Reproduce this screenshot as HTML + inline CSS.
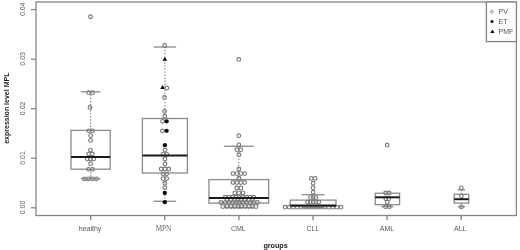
<!DOCTYPE html>
<html><head><meta charset="utf-8"><title>boxplot</title><style>
html,body{margin:0;padding:0;background:#fff;}
body{width:520px;height:250px;overflow:hidden;}
svg{display:block;}
.tk{font-family:"Liberation Sans",Arial,sans-serif;font-size:7px;fill:#5a5a5a;}
.tks{font-family:"Liberation Serif","Times New Roman",serif;font-size:7.2px;fill:#5e5e5e;}
.ttl{font-family:"Liberation Sans",Arial,sans-serif;font-size:7.2px;font-weight:bold;fill:#222;}
.lg{font-family:"Liberation Sans",Arial,sans-serif;font-size:7px;fill:#555;}
</style></head>
<body>
<svg width="520" height="250" viewBox="0 0 520 250">
<g>
<rect width="520" height="250" fill="#fff"/>
<line x1="90.6" y1="91.8" x2="90.6" y2="130.4" stroke="#8a8a8a" stroke-width="1.2" stroke-dasharray="1.45 1.6"/>
<line x1="80.8" y1="91.8" x2="100.4" y2="91.8" stroke="#8a8a8a" stroke-width="1.3"/>
<line x1="90.6" y1="169.2" x2="90.6" y2="178.8" stroke="#8a8a8a" stroke-width="1.2" stroke-dasharray="1.45 1.6"/>
<line x1="80.8" y1="178.8" x2="100.4" y2="178.8" stroke="#8a8a8a" stroke-width="1.3"/>
<rect x="71" y="130.4" width="39.2" height="38.8" fill="none" stroke="#8a8a8a" stroke-width="1.3"/>
<line x1="164.9" y1="47" x2="164.9" y2="118.5" stroke="#8a8a8a" stroke-width="1.2" stroke-dasharray="1.45 1.6"/>
<line x1="153.65" y1="47" x2="176.15" y2="47" stroke="#8a8a8a" stroke-width="1.3"/>
<line x1="164.9" y1="173" x2="164.9" y2="201.3" stroke="#8a8a8a" stroke-width="1.2" stroke-dasharray="1.45 1.6"/>
<line x1="153.65" y1="201.3" x2="176.15" y2="201.3" stroke="#8a8a8a" stroke-width="1.3"/>
<rect x="142.4" y="118.5" width="45" height="54.5" fill="none" stroke="#8a8a8a" stroke-width="1.3"/>
<line x1="238.8" y1="146.3" x2="238.8" y2="179.6" stroke="#8a8a8a" stroke-width="1.2" stroke-dasharray="1.45 1.6"/>
<line x1="223.88" y1="146.3" x2="253.73" y2="146.3" stroke="#8a8a8a" stroke-width="1.3"/>
<line x1="238.8" y1="203.1" x2="238.8" y2="207.4" stroke="#8a8a8a" stroke-width="1.2" stroke-dasharray="1.45 1.6"/>
<line x1="223.88" y1="207.4" x2="253.73" y2="207.4" stroke="#8a8a8a" stroke-width="1.3"/>
<rect x="208.95" y="179.6" width="59.7" height="23.5" fill="none" stroke="#8a8a8a" stroke-width="1.3"/>
<line x1="313.1" y1="194.7" x2="313.1" y2="200.1" stroke="#8a8a8a" stroke-width="1.2" stroke-dasharray="1.45 1.6"/>
<line x1="301.65" y1="194.7" x2="324.55" y2="194.7" stroke="#8a8a8a" stroke-width="1.3"/>
<line x1="313.1" y1="206.3" x2="313.1" y2="207.6" stroke="#8a8a8a" stroke-width="1.2" stroke-dasharray="1.45 1.6"/>
<line x1="301.65" y1="207.6" x2="324.55" y2="207.6" stroke="#8a8a8a" stroke-width="1.3"/>
<rect x="290.2" y="200.1" width="45.8" height="6.2" fill="none" stroke="#8a8a8a" stroke-width="1.3"/>
<line x1="387.4" y1="204.7" x2="387.4" y2="206.6" stroke="#8a8a8a" stroke-width="1.2" stroke-dasharray="1.45 1.6"/>
<line x1="381.3" y1="206.6" x2="393.5" y2="206.6" stroke="#8a8a8a" stroke-width="1.3"/>
<rect x="375.2" y="193.2" width="24.4" height="11.5" fill="none" stroke="#8a8a8a" stroke-width="1.3"/>
<line x1="461.45" y1="189.8" x2="461.45" y2="194.3" stroke="#8a8a8a" stroke-width="1.2" stroke-dasharray="1.45 1.6"/>
<line x1="457.8" y1="189.8" x2="465.1" y2="189.8" stroke="#8a8a8a" stroke-width="1.3"/>
<line x1="461.45" y1="203.1" x2="461.45" y2="206.8" stroke="#8a8a8a" stroke-width="1.2" stroke-dasharray="1.45 1.6"/>
<line x1="457.8" y1="206.8" x2="465.1" y2="206.8" stroke="#8a8a8a" stroke-width="1.3"/>
<rect x="454.15" y="194.3" width="14.6" height="8.8" fill="none" stroke="#8a8a8a" stroke-width="1.3"/>
<circle cx="90.5" cy="16.8" r="1.85" fill="none" stroke="#7a7a7a" stroke-width="1.15"/>
<circle cx="88.7" cy="92.7" r="1.85" fill="none" stroke="#7a7a7a" stroke-width="1.15"/>
<circle cx="92.6" cy="92.7" r="1.85" fill="none" stroke="#7a7a7a" stroke-width="1.15"/>
<circle cx="90" cy="107.4" r="1.85" fill="none" stroke="#7a7a7a" stroke-width="1.15"/>
<circle cx="88.8" cy="130.8" r="1.85" fill="none" stroke="#7a7a7a" stroke-width="1.15"/>
<circle cx="92.4" cy="130.8" r="1.85" fill="none" stroke="#7a7a7a" stroke-width="1.15"/>
<circle cx="90.6" cy="135.6" r="1.85" fill="none" stroke="#7a7a7a" stroke-width="1.15"/>
<circle cx="90.6" cy="140.4" r="1.85" fill="none" stroke="#7a7a7a" stroke-width="1.15"/>
<circle cx="90.5" cy="150.1" r="1.85" fill="none" stroke="#7a7a7a" stroke-width="1.15"/>
<circle cx="88.7" cy="154" r="1.85" fill="none" stroke="#7a7a7a" stroke-width="1.15"/>
<circle cx="92.3" cy="154" r="1.85" fill="none" stroke="#7a7a7a" stroke-width="1.15"/>
<circle cx="87.3" cy="158.9" r="1.85" fill="none" stroke="#7a7a7a" stroke-width="1.15"/>
<circle cx="90.5" cy="158.9" r="1.85" fill="none" stroke="#7a7a7a" stroke-width="1.15"/>
<circle cx="93.7" cy="158.9" r="1.85" fill="none" stroke="#7a7a7a" stroke-width="1.15"/>
<circle cx="90.6" cy="163.7" r="1.85" fill="none" stroke="#7a7a7a" stroke-width="1.15"/>
<circle cx="88.6" cy="169.3" r="1.85" fill="none" stroke="#7a7a7a" stroke-width="1.15"/>
<circle cx="92.5" cy="169.3" r="1.85" fill="none" stroke="#7a7a7a" stroke-width="1.15"/>
<circle cx="84.5" cy="178.8" r="1.85" fill="none" stroke="#7a7a7a" stroke-width="1.15"/>
<circle cx="88.4" cy="178.8" r="1.85" fill="none" stroke="#7a7a7a" stroke-width="1.15"/>
<circle cx="92.4" cy="178.8" r="1.85" fill="none" stroke="#7a7a7a" stroke-width="1.15"/>
<circle cx="96.3" cy="178.8" r="1.85" fill="none" stroke="#7a7a7a" stroke-width="1.15"/>
<circle cx="164.6" cy="45.4" r="1.85" fill="none" stroke="#7a7a7a" stroke-width="1.15"/>
<path d="M164.9 56.92L167.25 60.72L162.55 60.72Z" fill="#000"/>
<path d="M162.6 85.12L164.95 88.92L160.25 88.92Z" fill="#000"/>
<circle cx="166.8" cy="88" r="1.85" fill="none" stroke="#7a7a7a" stroke-width="1.15"/>
<circle cx="164.5" cy="97.4" r="1.85" fill="none" stroke="#7a7a7a" stroke-width="1.15"/>
<circle cx="164.5" cy="111.4" r="1.85" fill="none" stroke="#7a7a7a" stroke-width="1.15"/>
<circle cx="164.8" cy="116.2" r="1.85" fill="none" stroke="#7a7a7a" stroke-width="1.15"/>
<circle cx="162.6" cy="121.3" r="1.85" fill="none" stroke="#7a7a7a" stroke-width="1.15"/>
<circle cx="166.6" cy="121.3" r="2.15" fill="#0a0a0a"/>
<circle cx="162.4" cy="130.8" r="1.85" fill="none" stroke="#7a7a7a" stroke-width="1.15"/>
<circle cx="166.6" cy="130.8" r="2.15" fill="#0a0a0a"/>
<circle cx="164.9" cy="145.2" r="2.15" fill="#0a0a0a"/>
<circle cx="165" cy="150" r="1.85" fill="none" stroke="#7a7a7a" stroke-width="1.15"/>
<circle cx="163" cy="154.3" r="1.85" fill="none" stroke="#7a7a7a" stroke-width="1.15"/>
<circle cx="166.8" cy="154.3" r="1.85" fill="none" stroke="#7a7a7a" stroke-width="1.15"/>
<circle cx="165" cy="159" r="1.85" fill="none" stroke="#7a7a7a" stroke-width="1.15"/>
<circle cx="165" cy="164" r="1.85" fill="none" stroke="#7a7a7a" stroke-width="1.15"/>
<circle cx="161.2" cy="169" r="1.85" fill="none" stroke="#7a7a7a" stroke-width="1.15"/>
<circle cx="165" cy="169" r="1.85" fill="none" stroke="#7a7a7a" stroke-width="1.15"/>
<circle cx="168.8" cy="169" r="1.85" fill="none" stroke="#7a7a7a" stroke-width="1.15"/>
<circle cx="163" cy="173.8" r="1.85" fill="none" stroke="#7a7a7a" stroke-width="1.15"/>
<circle cx="166.6" cy="173.8" r="1.85" fill="none" stroke="#7a7a7a" stroke-width="1.15"/>
<circle cx="163" cy="178.6" r="1.85" fill="none" stroke="#7a7a7a" stroke-width="1.15"/>
<circle cx="166.6" cy="178.6" r="1.85" fill="none" stroke="#7a7a7a" stroke-width="1.15"/>
<circle cx="164.8" cy="183.2" r="1.85" fill="none" stroke="#7a7a7a" stroke-width="1.15"/>
<circle cx="164.8" cy="187.6" r="1.85" fill="none" stroke="#7a7a7a" stroke-width="1.15"/>
<circle cx="164.8" cy="193" r="2.15" fill="#0a0a0a"/>
<circle cx="164.8" cy="202.2" r="2.15" fill="#0a0a0a"/>
<circle cx="238.8" cy="59.4" r="1.85" fill="none" stroke="#7a7a7a" stroke-width="1.15"/>
<circle cx="238.8" cy="135.7" r="1.85" fill="none" stroke="#7a7a7a" stroke-width="1.15"/>
<circle cx="238.9" cy="144.8" r="1.85" fill="none" stroke="#7a7a7a" stroke-width="1.15"/>
<circle cx="236.9" cy="149.7" r="1.85" fill="none" stroke="#7a7a7a" stroke-width="1.15"/>
<circle cx="240.7" cy="149.7" r="1.85" fill="none" stroke="#7a7a7a" stroke-width="1.15"/>
<circle cx="238.9" cy="154.7" r="1.85" fill="none" stroke="#7a7a7a" stroke-width="1.15"/>
<circle cx="238.9" cy="169" r="1.85" fill="none" stroke="#7a7a7a" stroke-width="1.15"/>
<circle cx="233" cy="173.6" r="1.85" fill="none" stroke="#7a7a7a" stroke-width="1.15"/>
<circle cx="236.9" cy="173.6" r="1.85" fill="none" stroke="#7a7a7a" stroke-width="1.15"/>
<circle cx="240.8" cy="173.6" r="1.85" fill="none" stroke="#7a7a7a" stroke-width="1.15"/>
<circle cx="244.7" cy="173.6" r="1.85" fill="none" stroke="#7a7a7a" stroke-width="1.15"/>
<circle cx="238.9" cy="178.2" r="1.85" fill="none" stroke="#7a7a7a" stroke-width="1.15"/>
<circle cx="233" cy="182.5" r="1.85" fill="none" stroke="#7a7a7a" stroke-width="1.15"/>
<circle cx="236.9" cy="182.5" r="1.85" fill="none" stroke="#7a7a7a" stroke-width="1.15"/>
<circle cx="240.8" cy="182.5" r="1.85" fill="none" stroke="#7a7a7a" stroke-width="1.15"/>
<circle cx="244.7" cy="182.5" r="1.85" fill="none" stroke="#7a7a7a" stroke-width="1.15"/>
<circle cx="236.8" cy="188" r="1.85" fill="none" stroke="#7a7a7a" stroke-width="1.15"/>
<circle cx="240.9" cy="188" r="1.85" fill="none" stroke="#7a7a7a" stroke-width="1.15"/>
<circle cx="234.8" cy="192.9" r="1.85" fill="none" stroke="#7a7a7a" stroke-width="1.15"/>
<circle cx="238.9" cy="192.9" r="1.85" fill="none" stroke="#7a7a7a" stroke-width="1.15"/>
<circle cx="243" cy="192.9" r="1.85" fill="none" stroke="#7a7a7a" stroke-width="1.15"/>
<circle cx="225.2" cy="197.2" r="1.85" fill="none" stroke="#7a7a7a" stroke-width="1.15"/>
<circle cx="229" cy="197.2" r="1.85" fill="none" stroke="#7a7a7a" stroke-width="1.15"/>
<circle cx="232.7" cy="197.2" r="1.85" fill="none" stroke="#7a7a7a" stroke-width="1.15"/>
<circle cx="236.1" cy="197.2" r="1.85" fill="none" stroke="#7a7a7a" stroke-width="1.15"/>
<circle cx="239" cy="197.2" r="1.85" fill="none" stroke="#7a7a7a" stroke-width="1.15"/>
<circle cx="242.8" cy="197.2" r="1.85" fill="none" stroke="#7a7a7a" stroke-width="1.15"/>
<circle cx="246.5" cy="197.2" r="1.85" fill="none" stroke="#7a7a7a" stroke-width="1.15"/>
<circle cx="250.3" cy="197.2" r="1.85" fill="none" stroke="#7a7a7a" stroke-width="1.15"/>
<circle cx="253.7" cy="197.2" r="1.85" fill="none" stroke="#7a7a7a" stroke-width="1.15"/>
<circle cx="227.2" cy="199.8" r="1.85" fill="none" stroke="#7a7a7a" stroke-width="1.15"/>
<circle cx="231" cy="199.8" r="1.85" fill="none" stroke="#7a7a7a" stroke-width="1.15"/>
<circle cx="234.7" cy="199.8" r="1.85" fill="none" stroke="#7a7a7a" stroke-width="1.15"/>
<circle cx="238.1" cy="199.8" r="1.85" fill="none" stroke="#7a7a7a" stroke-width="1.15"/>
<circle cx="241.4" cy="199.8" r="1.85" fill="none" stroke="#7a7a7a" stroke-width="1.15"/>
<circle cx="245.2" cy="199.8" r="1.85" fill="none" stroke="#7a7a7a" stroke-width="1.15"/>
<circle cx="248.9" cy="199.8" r="1.85" fill="none" stroke="#7a7a7a" stroke-width="1.15"/>
<circle cx="252.6" cy="199.8" r="1.85" fill="none" stroke="#7a7a7a" stroke-width="1.15"/>
<circle cx="220.8" cy="202.5" r="1.85" fill="none" stroke="#7a7a7a" stroke-width="1.15"/>
<circle cx="225.2" cy="202.5" r="1.85" fill="none" stroke="#7a7a7a" stroke-width="1.15"/>
<circle cx="229" cy="202.5" r="1.85" fill="none" stroke="#7a7a7a" stroke-width="1.15"/>
<circle cx="232.7" cy="202.5" r="1.85" fill="none" stroke="#7a7a7a" stroke-width="1.15"/>
<circle cx="236.1" cy="202.5" r="1.85" fill="none" stroke="#7a7a7a" stroke-width="1.15"/>
<circle cx="239" cy="202.5" r="1.85" fill="none" stroke="#7a7a7a" stroke-width="1.15"/>
<circle cx="242.8" cy="202.5" r="1.85" fill="none" stroke="#7a7a7a" stroke-width="1.15"/>
<circle cx="246.5" cy="202.5" r="1.85" fill="none" stroke="#7a7a7a" stroke-width="1.15"/>
<circle cx="250.3" cy="202.5" r="1.85" fill="none" stroke="#7a7a7a" stroke-width="1.15"/>
<circle cx="253.7" cy="202.5" r="1.85" fill="none" stroke="#7a7a7a" stroke-width="1.15"/>
<circle cx="257.4" cy="202.5" r="1.85" fill="none" stroke="#7a7a7a" stroke-width="1.15"/>
<circle cx="222.8" cy="206.6" r="1.85" fill="none" stroke="#7a7a7a" stroke-width="1.15"/>
<circle cx="226.9" cy="206.6" r="1.85" fill="none" stroke="#7a7a7a" stroke-width="1.15"/>
<circle cx="231" cy="206.6" r="1.85" fill="none" stroke="#7a7a7a" stroke-width="1.15"/>
<circle cx="234.7" cy="206.6" r="1.85" fill="none" stroke="#7a7a7a" stroke-width="1.15"/>
<circle cx="238.3" cy="206.6" r="1.85" fill="none" stroke="#7a7a7a" stroke-width="1.15"/>
<circle cx="241.4" cy="206.6" r="1.85" fill="none" stroke="#7a7a7a" stroke-width="1.15"/>
<circle cx="245.2" cy="206.6" r="1.85" fill="none" stroke="#7a7a7a" stroke-width="1.15"/>
<circle cx="248.9" cy="206.6" r="1.85" fill="none" stroke="#7a7a7a" stroke-width="1.15"/>
<circle cx="252.6" cy="206.6" r="1.85" fill="none" stroke="#7a7a7a" stroke-width="1.15"/>
<circle cx="256" cy="206.6" r="1.85" fill="none" stroke="#7a7a7a" stroke-width="1.15"/>
<circle cx="311.3" cy="178.4" r="1.85" fill="none" stroke="#7a7a7a" stroke-width="1.15"/>
<circle cx="315.2" cy="178.4" r="1.85" fill="none" stroke="#7a7a7a" stroke-width="1.15"/>
<circle cx="313.1" cy="183.2" r="1.85" fill="none" stroke="#7a7a7a" stroke-width="1.15"/>
<circle cx="313.1" cy="187.7" r="1.85" fill="none" stroke="#7a7a7a" stroke-width="1.15"/>
<circle cx="313.2" cy="192.2" r="1.85" fill="none" stroke="#7a7a7a" stroke-width="1.15"/>
<circle cx="310.5" cy="197.6" r="1.85" fill="none" stroke="#7a7a7a" stroke-width="1.15"/>
<circle cx="313.2" cy="197.6" r="1.85" fill="none" stroke="#7a7a7a" stroke-width="1.15"/>
<circle cx="315.9" cy="197.6" r="1.85" fill="none" stroke="#7a7a7a" stroke-width="1.15"/>
<circle cx="307.6" cy="202.1" r="1.85" fill="none" stroke="#7a7a7a" stroke-width="1.15"/>
<circle cx="310.4" cy="202.1" r="1.85" fill="none" stroke="#7a7a7a" stroke-width="1.15"/>
<circle cx="313.2" cy="202.1" r="1.85" fill="none" stroke="#7a7a7a" stroke-width="1.15"/>
<circle cx="316" cy="202.1" r="1.85" fill="none" stroke="#7a7a7a" stroke-width="1.15"/>
<circle cx="318.8" cy="202.1" r="1.85" fill="none" stroke="#7a7a7a" stroke-width="1.15"/>
<circle cx="285.1" cy="207.2" r="1.85" fill="none" stroke="#7a7a7a" stroke-width="1.15"/>
<circle cx="289.1" cy="207.2" r="1.85" fill="none" stroke="#7a7a7a" stroke-width="1.15"/>
<circle cx="293.2" cy="207.2" r="1.85" fill="none" stroke="#7a7a7a" stroke-width="1.15"/>
<circle cx="297.3" cy="207.2" r="1.85" fill="none" stroke="#7a7a7a" stroke-width="1.15"/>
<circle cx="301.4" cy="207.2" r="1.85" fill="none" stroke="#7a7a7a" stroke-width="1.15"/>
<circle cx="305.5" cy="207.2" r="1.85" fill="none" stroke="#7a7a7a" stroke-width="1.15"/>
<circle cx="309.2" cy="207.2" r="1.85" fill="none" stroke="#7a7a7a" stroke-width="1.15"/>
<circle cx="313" cy="207.2" r="1.85" fill="none" stroke="#7a7a7a" stroke-width="1.15"/>
<circle cx="316.5" cy="207.2" r="1.85" fill="none" stroke="#7a7a7a" stroke-width="1.15"/>
<circle cx="320.5" cy="207.2" r="1.85" fill="none" stroke="#7a7a7a" stroke-width="1.15"/>
<circle cx="324.6" cy="207.2" r="1.85" fill="none" stroke="#7a7a7a" stroke-width="1.15"/>
<circle cx="328.7" cy="207.2" r="1.85" fill="none" stroke="#7a7a7a" stroke-width="1.15"/>
<circle cx="332.8" cy="207.2" r="1.85" fill="none" stroke="#7a7a7a" stroke-width="1.15"/>
<circle cx="336.9" cy="207.2" r="1.85" fill="none" stroke="#7a7a7a" stroke-width="1.15"/>
<circle cx="341" cy="207.2" r="1.85" fill="none" stroke="#7a7a7a" stroke-width="1.15"/>
<circle cx="387.2" cy="145.2" r="1.85" fill="none" stroke="#7a7a7a" stroke-width="1.15"/>
<circle cx="385.6" cy="193" r="1.85" fill="none" stroke="#7a7a7a" stroke-width="1.15"/>
<circle cx="389" cy="193" r="1.85" fill="none" stroke="#7a7a7a" stroke-width="1.15"/>
<circle cx="385.9" cy="198.7" r="1.85" fill="none" stroke="#7a7a7a" stroke-width="1.15"/>
<circle cx="388.7" cy="198.7" r="1.85" fill="none" stroke="#7a7a7a" stroke-width="1.15"/>
<circle cx="387.3" cy="202.2" r="1.85" fill="none" stroke="#7a7a7a" stroke-width="1.15"/>
<circle cx="385.5" cy="206.7" r="1.85" fill="none" stroke="#7a7a7a" stroke-width="1.15"/>
<circle cx="389.3" cy="206.7" r="1.85" fill="none" stroke="#7a7a7a" stroke-width="1.15"/>
<circle cx="461.3" cy="187.8" r="1.85" fill="none" stroke="#7a7a7a" stroke-width="1.15"/>
<circle cx="461.4" cy="196.1" r="1.85" fill="none" stroke="#7a7a7a" stroke-width="1.15"/>
<circle cx="461.4" cy="206.8" r="1.85" fill="none" stroke="#7a7a7a" stroke-width="1.15"/>
<line x1="71" y1="156.9" x2="110.2" y2="156.9" stroke="#1a1a1a" stroke-width="2.0"/>
<line x1="142.4" y1="155.4" x2="187.4" y2="155.4" stroke="#1a1a1a" stroke-width="2.0"/>
<line x1="208.95" y1="197.9" x2="268.65" y2="197.9" stroke="#1a1a1a" stroke-width="2.0"/>
<line x1="290.2" y1="205.4" x2="336" y2="205.4" stroke="#1a1a1a" stroke-width="2.0"/>
<line x1="375.2" y1="197.3" x2="399.6" y2="197.3" stroke="#1a1a1a" stroke-width="2.0"/>
<line x1="454.15" y1="199.2" x2="468.75" y2="199.2" stroke="#1a1a1a" stroke-width="2.0"/>
<rect x="36" y="2" width="480.4" height="213.5" fill="none" stroke="#858585" stroke-width="1.3"/>
<line x1="31" y1="207.8" x2="36" y2="207.8" stroke="#858585" stroke-width="1.3"/>
<text transform="translate(25.4 207.5) rotate(-90)" text-anchor="middle" class="tk">0.00</text>
<line x1="31" y1="158.25" x2="36" y2="158.25" stroke="#858585" stroke-width="1.3"/>
<text transform="translate(25.4 157.95) rotate(-90)" text-anchor="middle" class="tk">0.01</text>
<line x1="31" y1="108.7" x2="36" y2="108.7" stroke="#858585" stroke-width="1.3"/>
<text transform="translate(25.4 108.4) rotate(-90)" text-anchor="middle" class="tk">0.02</text>
<line x1="31" y1="59.15" x2="36" y2="59.15" stroke="#858585" stroke-width="1.3"/>
<text transform="translate(25.4 58.85) rotate(-90)" text-anchor="middle" class="tk">0.03</text>
<line x1="31" y1="9.6" x2="36" y2="9.6" stroke="#858585" stroke-width="1.3"/>
<text transform="translate(25.4 9.3) rotate(-90)" text-anchor="middle" class="tk">0.04</text>
<line x1="90.7" y1="215.5" x2="90.7" y2="220.2" stroke="#858585" stroke-width="1.3"/>
<text x="90.1" y="231.1" text-anchor="middle" class="tk">healthy</text>
<line x1="164.8" y1="215.5" x2="164.8" y2="220.2" stroke="#858585" stroke-width="1.3"/>
<text x="163.5" y="230.8" text-anchor="middle" class="tks">MPN</text>
<line x1="238.9" y1="215.5" x2="238.9" y2="220.2" stroke="#858585" stroke-width="1.3"/>
<text x="238.3" y="231.1" text-anchor="middle" class="tk">CML</text>
<line x1="313" y1="215.5" x2="313" y2="220.2" stroke="#858585" stroke-width="1.3"/>
<text x="312.9" y="231.1" text-anchor="middle" class="tk">CLL</text>
<line x1="387.1" y1="215.5" x2="387.1" y2="220.2" stroke="#858585" stroke-width="1.3"/>
<text x="386.95" y="231.1" text-anchor="middle" class="tk">AML</text>
<line x1="461.2" y1="215.5" x2="461.2" y2="220.2" stroke="#858585" stroke-width="1.3"/>
<text x="460.3" y="231.1" text-anchor="middle" class="tk">ALL</text>
<text x="275.6" y="247.6" text-anchor="middle" class="ttl">groups</text>
<text transform="translate(9.0 108.2) rotate(-90)" text-anchor="middle" class="ttl" style="font-size:7px">expression level MPL</text>
<rect x="486.4" y="2" width="30" height="39.6" fill="#fff" stroke="#858585" stroke-width="1.3"/>
<circle cx="491.8" cy="11.7" r="1.4" fill="none" stroke="#7a7a7a" stroke-width="0.9"/>
<circle cx="492" cy="21.5" r="1.55" fill="#111"/>
<path d="M492.4 29.4L494.5 33L490.3 33Z" fill="#000"/>
<text x="498.6" y="14.4" class="lg">PV</text>
<text x="498.6" y="24.3" class="lg">ET</text>
<text x="498.6" y="34.1" class="lg">PMF</text>
</g></svg>
</body></html>
